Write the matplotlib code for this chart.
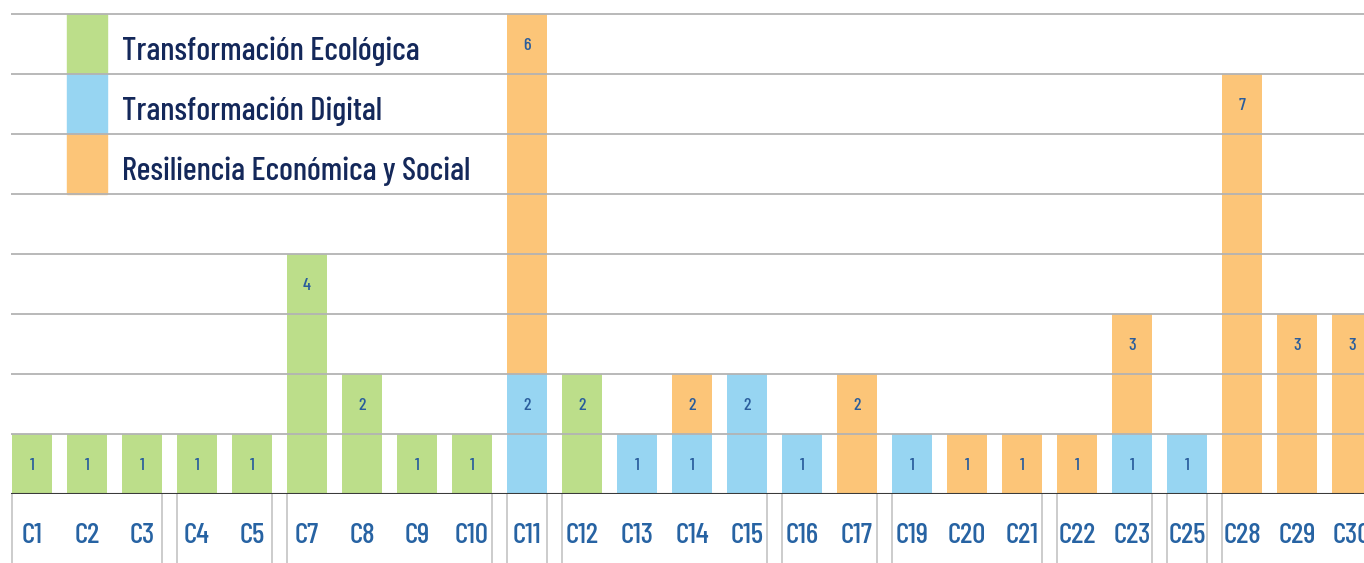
import matplotlib.pyplot as plt
import matplotlib.transforms as mtransforms
from matplotlib.patches import Rectangle

plt.rcParams['font.family'] = ['Barlow Condensed', 'Fira Sans Condensed', 'DejaVu Sans']
plt.rcParams['font.weight'] = 500

# Components (C6, C18, C24, C26, C27 are not in the chart)
categories = ["C1", "C2", "C3", "C4", "C5", "C7", "C8", "C9", "C10", "C11",
              "C12", "C13", "C14", "C15", "C16", "C17", "C19", "C20", "C21",
              "C22", "C23", "C25", "C28", "C29", "C30"]
# group id of each component (boxes under the axis)
groups = [0, 0, 0, 1, 1, 2, 2, 2, 2, 3, 4, 4, 4, 4, 5, 5, 6, 6, 6, 7, 7, 8, 9, 9, 9]

ecologica = [1, 1, 1, 1, 1, 4, 2, 1, 1, 0, 2, 0, 0, 0, 0, 0, 0, 0, 0, 0, 0, 0, 0, 0, 0]
digital = [0, 0, 0, 0, 0, 0, 0, 0, 0, 2, 0, 1, 1, 2, 1, 0, 1, 0, 0, 0, 1, 1, 0, 0, 0]
resiliencia = [0, 0, 0, 0, 0, 0, 0, 0, 0, 6, 0, 0, 1, 0, 0, 2, 0, 1, 1, 1, 2, 0, 7, 3, 3]
# numbers printed on the orange segments, as in the source
resiliencia_labels = [0, 0, 0, 0, 0, 0, 0, 0, 0, 6, 0, 0, 2, 0, 0, 2, 0, 1, 1, 1, 3, 0, 7, 3, 3]

series_names = ["Transformación Ecológica", "Transformación Digital",
                "Resiliencia Económica y Social"]
colors = ["#bcde8a", "#97d5f2", "#fcc578"]
label_color = "#2a5d9c"

fig = plt.figure(figsize=(13.64, 5.63), dpi=100)
ax = fig.add_axes([11 / 1364, 69 / 563, 1353 / 1364, 486 / 563])

x = list(range(len(categories)))
w = 0.727
bottom_blue = [0] * len(x)
bottom_green = digital
bottom_orange = [d + e for d, e in zip(digital, ecologica)]

ax.bar(x, digital, w, bottom=bottom_blue, color=colors[1], zorder=1)
ax.bar(x, ecologica, w, bottom=bottom_green, color=colors[0], zorder=1)
ax.bar(x, resiliencia, w, bottom=bottom_orange, color=colors[2], zorder=1)

# value labels a bit more than half a unit below each segment top
off = 0.53
for i in x:
    if digital[i]:
        ax.text(i, digital[i] - off, str(digital[i]), ha="center", va="center",
                fontsize=13, color=label_color, zorder=3)
    if ecologica[i]:
        top = bottom_green[i] + ecologica[i]
        ax.text(i, top - off, str(ecologica[i]), ha="center", va="center",
                fontsize=13, color=label_color, zorder=3)
    if resiliencia[i]:
        top = bottom_orange[i] + resiliencia[i]
        ax.text(i, top - off, str(resiliencia_labels[i]), ha="center", va="center",
                fontsize=13, color=label_color, zorder=3)

ax.set_xlim(-0.382, 24.218)
ax.set_ylim(0, 8.1)
for yv in range(1, 9):
    ax.axhline(yv, color="#b3b3b3", lw=1.3, zorder=2)
ax.axhline(0, color="#3a3a3a", lw=1.5, zorder=3)

for s in ax.spines.values():
    s.set_visible(False)
ax.set_yticks([])
ax.set_xticks(x)
ax.set_xticklabels(categories, fontsize=21, color="#2763a3")
ax.tick_params(axis="x", length=0, pad=21)

# group boxes under the axis
trans = mtransforms.blended_transform_factory(ax.transData, ax.transAxes)
edges = []
for g in sorted(set(groups)):
    idx = [i for i in x if groups[i] == g]
    edges += [idx[0] - w / 2, idx[-1] + w / 2]
ax.vlines(edges, -0.2, 0, transform=trans, color="#c4c4c4", lw=1.2, clip_on=False)

# legend drawn on the grid cells at the top left
for k, name in enumerate(series_names):
    y0 = 7 - k
    ax.add_patch(Rectangle((1 - w / 2, y0), w, 1, color=colors[k], zorder=1))
    ax.text(1.64, y0 + 0.24, name, ha="left", va="baseline", fontsize=23.5,
            color="#14285a", zorder=3)

fig.savefig("out.png", dpi=100)
